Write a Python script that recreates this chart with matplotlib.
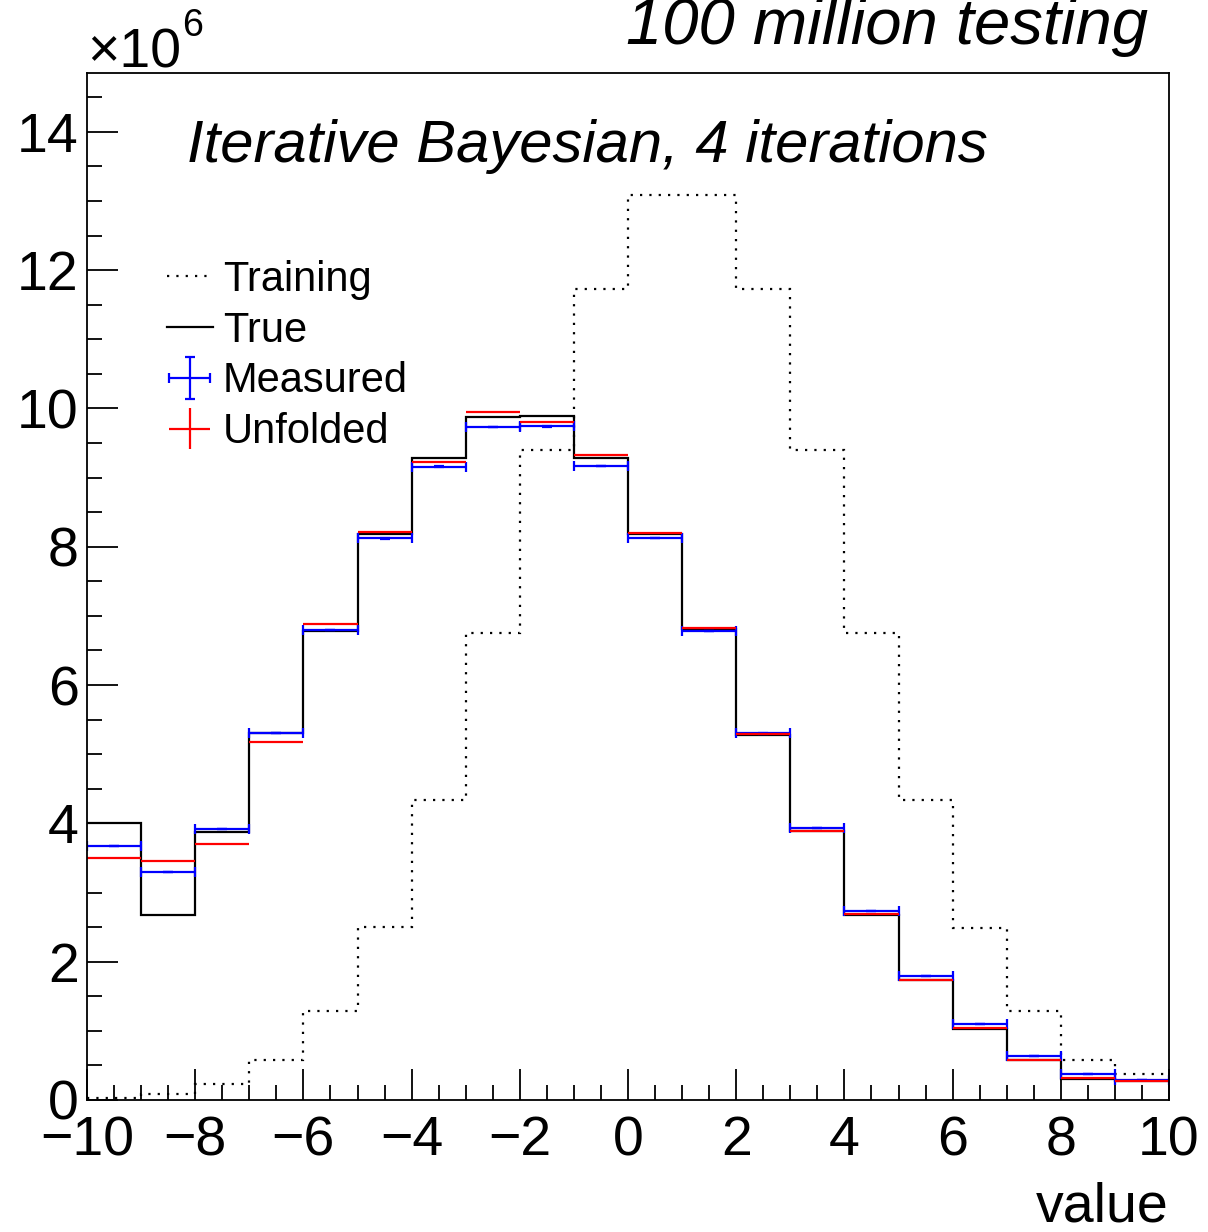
import numpy as np
import matplotlib.pyplot as plt
from matplotlib.lines import Line2D
from matplotlib.ticker import MultipleLocator

plt.rcParams['font.family'] = ['Liberation Sans', 'DejaVu Sans']

# bin edges and per-bin contents (in units of 10^6 entries)
edges = np.arange(-10, 11, 1)
training = [0.025, 0.08, 0.23, 0.58, 1.29, 2.50, 4.34, 6.75, 9.40, 11.72,
            13.08, 13.08, 11.72, 9.40, 6.75, 4.34, 2.49, 1.28, 0.58, 0.37]
true_vals = [4.00, 2.67, 3.88, 5.30, 6.78, 8.18, 9.28, 9.88, 9.89, 9.29,
             8.19, 6.81, 5.28, 3.89, 2.67, 1.73, 1.03, 0.58, 0.30, 0.28]
measured = [3.67, 3.30, 3.92, 5.31, 6.80, 8.12, 9.16, 9.73, 9.74, 9.17,
            8.13, 6.78, 5.30, 3.93, 2.73, 1.79, 1.095, 0.63, 0.376, 0.29]
unfolded = [3.50, 3.45, 3.70, 5.17, 6.88, 8.21, 9.23, 9.95, 9.81, 9.32,
            8.20, 6.83, 5.29, 3.89, 2.69, 1.74, 1.04, 0.58, 0.32, 0.28]

centers = 0.5 * (edges[:-1] + edges[1:])
half_width = 0.5 * np.diff(edges)
meas_err = np.sqrt(np.array(measured) * 1e6) / 1e6
unf_err = np.sqrt(np.array(unfolded) * 1e6) / 1e6

W, H = 1208, 1232
fig = plt.figure(figsize=(W / 100, H / 100), dpi=100)
ax = fig.add_axes([87 / W, 1 - 1100 / H, (1169 - 87) / W, (1100 - 73) / H])

ax.stairs(training, edges, baseline=None, color='black', lw=1.6,
          linestyle=(0, (1, 3.2)), label='Training')
ax.stairs(true_vals, edges, baseline=None, color='black', lw=1.6, label='True')
meas = ax.errorbar(centers, measured, xerr=half_width, yerr=meas_err, fmt='none',
                   ecolor='blue', elinewidth=1.6, capsize=3.6, capthick=1.6)
unf = ax.errorbar(centers, unfolded, xerr=half_width, yerr=unf_err, fmt='none',
                  ecolor='red', elinewidth=1.6, capsize=0)

ax.set_xlim(-10, 10)
ax.set_ylim(0, 14.85)
ax.xaxis.set_major_locator(MultipleLocator(2))
ax.xaxis.set_minor_locator(MultipleLocator(0.5))
ax.yaxis.set_major_locator(MultipleLocator(2))
ax.yaxis.set_minor_locator(MultipleLocator(0.5))
ax.tick_params(which='both', direction='in', top=False, right=False,
               labelsize=40, width=1.3)
ax.tick_params(which='major', length=22)
ax.tick_params(which='minor', length=11)
ax.tick_params(axis='x', pad=11)
ax.tick_params(axis='y', pad=6)
for s in ax.spines.values():
    s.set_linewidth(1.3)

fig.text(1169 / W, 1 - 1222 / H, 'value', ha='right', va='baseline', fontsize=40)

# exponent marker for the y axis
fig.text(87 / W, 1 - 68 / H, '\u00d710', fontsize=40, ha='left', va='baseline')
fig.text(182 / W, 1 - 36 / H, '6', fontsize=27, ha='left', va='baseline')

fig.text(1148 / W, 1 - 44 / H, '100 million testing', fontsize=47,
         style='italic', ha='right', va='baseline')
fig.text(187 / W, 1 - 162 / H, 'Iterative Bayesian, 4 iterations', fontsize=43,
         style='italic', ha='left', va='baseline')

handles = [Line2D([], [], color='black', lw=1.6, linestyle=(0, (1, 3.2))),
           Line2D([], [], color='black', lw=1.6),
           meas, unf]
labels = ['Training', 'True', 'Measured', 'Unfolded']
ax.legend(handles, labels, loc='upper left',
          bbox_to_anchor=(150 / W, 1 - 243 / H), bbox_transform=fig.transFigure,
          frameon=False, fontsize=30, handlelength=1.1, handletextpad=0.25,
          labelspacing=0.26, borderaxespad=0)

fig.savefig('out.png', dpi=100)
